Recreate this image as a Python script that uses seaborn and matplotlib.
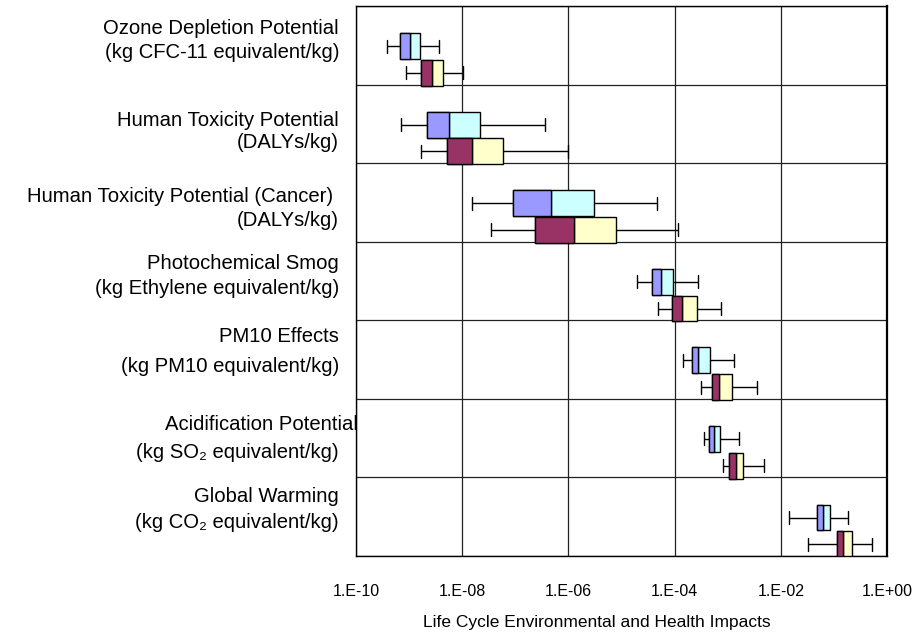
import numpy as np
import pandas as pd
import matplotlib
matplotlib.use("Agg")
import matplotlib.pyplot as plt
from matplotlib.ticker import FuncFormatter, NullLocator
import seaborn as sns

# impact categories (top to bottom) and their two label lines
categories = ["Ozone", "HTP", "HTP Cancer", "Smog", "PM10", "Acidification", "Global Warming"]
label_titles = ["Ozone Depletion Potential", "Human Toxicity Potential",
                "Human Toxicity Potential (Cancer) ", "Photochemical Smog",
                "PM10 Effects", "Acidification Potential", "Global Warming"]
label_units = ["(kg CFC-11 equivalent/kg)", "(DALYs/kg)", "(DALYs/kg)",
               "(kg Ethylene equivalent/kg)", "(kg PM10 equivalent/kg)",
               "(kg SO\u2082 equivalent/kg)", "(kg CO\u2082 equivalent/kg)"]

# five number summaries (whisker low, q1, median, q3, whisker high)
# upper box of each pair (blue / cyan)
a_lo  = [3.8e-10, 7.1e-10, 1.5e-8, 2.0e-5, 1.45e-4, 3.6e-4, 1.41e-2]
a_q1  = [6.6e-10, 2.2e-9, 8.9e-8, 3.7e-5, 2.1e-4, 4.5e-4, 4.8e-2]
a_med = [1.02e-9, 5.6e-9, 4.7e-7, 5.6e-5, 2.7e-4, 5.5e-4, 6.3e-2]
a_q3  = [1.6e-9, 2.2e-8, 3.1e-6, 9.5e-5, 4.7e-4, 7.1e-4, 8.5e-2]
a_hi  = [3.7e-9, 3.6e-7, 4.6e-5, 2.7e-4, 1.29e-3, 1.66e-3, 0.186]
# lower box of each pair (maroon / yellow)
b_lo  = [8.7e-10, 1.7e-9, 3.5e-8, 4.8e-5, 3.2e-4, 8.1e-4, 3.3e-2]
b_q1  = [1.7e-9, 5.2e-9, 2.3e-7, 8.9e-5, 5.0e-4, 1.07e-3, 0.112]
b_med = [2.7e-9, 1.5e-8, 1.26e-6, 1.38e-4, 6.9e-4, 1.41e-3, 0.151]
b_q3  = [4.4e-9, 5.9e-8, 7.8e-6, 2.6e-4, 1.23e-3, 1.95e-3, 0.219]
b_hi  = [1.05e-8, 1.0e-6, 1.15e-4, 7.6e-4, 3.6e-3, 4.9e-3, 0.525]

x_ticks = [1e-10, 1e-8, 1e-6, 1e-4, 1e-2, 1e0]

# colours (right half of box is the seaborn fill, left half overlaid)
right_cols = {"A": "#CCFFFF", "B": "#FFFFCC"}
left_cols = {"A": "#9999FF", "B": "#993366"}

# long form table: the five summary numbers per box
rows = []
for i, cat in enumerate(categories):
    for v in (a_lo[i], a_q1[i], a_med[i], a_q3[i], a_hi[i]):
        rows.append((cat, "A", v))
    for v in (b_lo[i], b_q1[i], b_med[i], b_q3[i], b_hi[i]):
        rows.append((cat, "B", v))
df = pd.DataFrame(rows, columns=["category", "series", "value"])

sns.set_theme(style="white")
plt.rcParams["font.family"] = ["Liberation Sans", "DejaVu Sans"]

W, H = 913, 635
fig = plt.figure(figsize=(W / 100, H / 100), dpi=100)
ax = fig.add_axes([356 / W, 79 / H, 531 / W, 550 / H])

width, gap = 0.68, 0.03
sns.boxplot(data=df, x="value", y="category", hue="series", order=categories,
            hue_order=["A", "B"], palette=right_cols, log_scale=True,
            whis=(0, 100), width=width, gap=gap, linecolor="black",
            linewidth=1, legend=False, saturation=1, ax=ax)

# left half of each box (q1 to median)
box_h = width / 2 * (1 - gap)
ypos = np.arange(len(categories))
ax.barh(ypos - width / 4, np.array(a_med) - np.array(a_q1), left=a_q1, height=box_h,
        color=left_cols["A"], edgecolor="black", linewidth=1, zorder=3)
ax.barh(ypos + width / 4, np.array(b_med) - np.array(b_q1), left=b_q1, height=box_h,
        color=left_cols["B"], edgecolor="black", linewidth=1, zorder=3)

# axes layout
ax.set_xlim(1e-10, 1)
ax.set_ylim(len(categories) - 0.68, -0.68)
ax.set_xticks(x_ticks)
ax.xaxis.set_minor_locator(NullLocator())
ax.xaxis.set_major_formatter(FuncFormatter(lambda v, p: f"1.E{int(round(np.log10(v))):+03d}"))
ax.set_yticks(np.arange(len(categories) + 1) - 0.68)
ax.set_yticklabels([])
ax.set_xlabel("")
ax.set_ylabel("")
ax.grid(True, color="#222222", linewidth=0.9)
ax.set_axisbelow(True)
for s in ax.spines.values():
    s.set_visible(True)
    s.set_color("black")
    s.set_linewidth(1)
ax.spines["right"].set_linewidth(1.6)
ax.tick_params(axis="x", direction="out", length=6, width=1, color="black",
               labelsize=11.5, pad=14, labelcolor="black")
ax.tick_params(axis="y", direction="out", length=4.5, width=1, color="black")

# category labels, right aligned left of the axis
title_y = [28, 120, 197, 263, 337, 424, 496]
unit_y = [53, 143, 220, 288, 367, 453, 522]
title_x = [339, 339, 339, 339, 339, 358, 339]
for i in range(len(categories)):
    fig.text(title_x[i] / W, 1 - title_y[i] / H, label_titles[i], ha="right",
             va="center", fontsize=14.6, color="black")
    fig.text(339 / W, 1 - unit_y[i] / H, label_units[i], ha="right",
             va="center", fontsize=14.6, color="black")

fig.text(597 / W, 1 - 623 / H, "Life Cycle Environmental and Health Impacts",
         ha="center", va="center", fontsize=12.5, color="black")

fig.savefig("out.png", dpi=100)
